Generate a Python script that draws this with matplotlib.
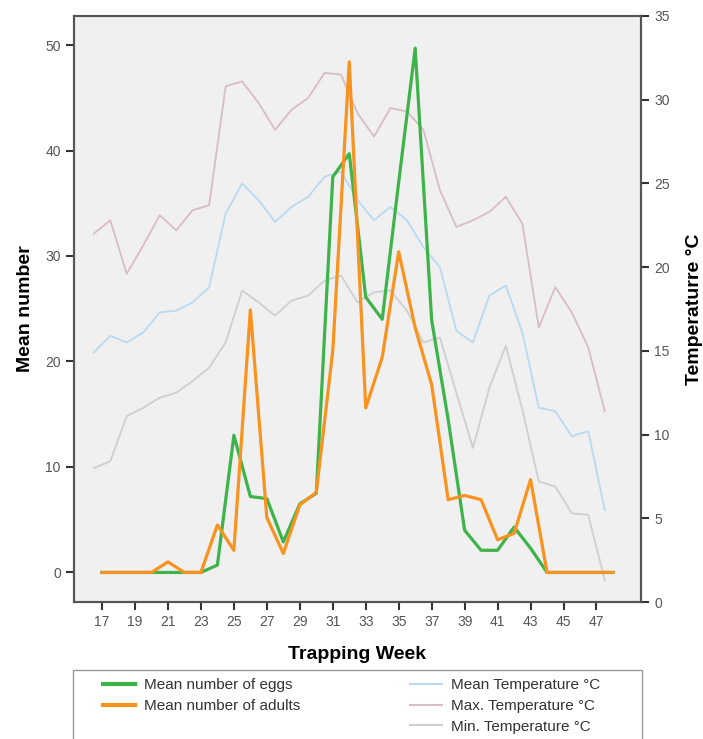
import numpy as np
import matplotlib.pyplot as plt
from matplotlib.lines import Line2D
from matplotlib.patches import Rectangle

plt.rcParams['font.family'] = ['Liberation Sans', 'DejaVu Sans']

# semanas de captura
weeks = list(range(17, 49))

# numero medio (eixo esquerdo)
eggs = [0, 0, 0, 0, 0, 0, 0, 0.7, 13.0, 7.2, 7.0, 2.9, 6.5, 7.5, 37.5, 39.7,
        26.1, 24.0, 37.0, 49.7, 23.9, 14.5, 4.0, 2.1, 2.1, 4.3, 2.3, 0, 0, 0, 0, 0]
adults = [0, 0, 0, 0, 1.0, 0, 0, 4.5, 2.1, 24.9, 5.2, 1.8, 6.4, 7.6, 21.0, 48.4,
          15.6, 20.4, 30.4, 23.2, 17.8, 6.9, 7.3, 6.9, 3.1, 3.7, 8.8, 0, 0, 0, 0, 0]

# temperaturas (eixo direito)
temp_mean = [14.9, 15.9, 15.5, 16.1, 17.3, 17.4, 17.9, 18.8, 23.2, 25.0, 24.0, 22.7,
             23.6, 24.2, 25.4, 25.7, 24.0, 22.8, 23.6, 22.8, 21.2, 20.0, 16.2, 15.5,
             18.3, 18.9, 16.1, 11.6, 11.4, 9.9, 10.2, 5.5]
temp_max = [22.0, 22.8, 19.6, 21.3, 23.1, 22.2, 23.4, 23.7, 30.8, 31.1, 29.8, 28.2,
            29.4, 30.1, 31.6, 31.5, 29.2, 27.8, 29.5, 29.3, 28.2, 24.6, 22.4, 22.8,
            23.3, 24.2, 22.6, 16.4, 18.8, 17.3, 15.2, 11.4]
temp_min = [8.0, 8.4, 11.1, 11.6, 12.2, 12.5, 13.2, 14.0, 15.5, 18.6, 17.9, 17.1,
            18.0, 18.3, 19.2, 19.5, 17.9, 18.5, 18.6, 17.4, 15.5, 15.8, 12.5, 9.2,
            12.8, 15.3, 11.5, 7.2, 6.9, 5.3, 5.2, 1.3]

c_eggs = '#3db349'
c_adults = '#f7931e'
c_mean = '#b8daf0'
c_max = '#d8bcc6'
c_min = '#cfcfcf'

fig = plt.figure(figsize=(7.03, 7.39), dpi=100)
ax = fig.add_axes([74 / 703, 1 - 602 / 739, (641 - 74) / 703, (602 - 16) / 739])
ax2 = ax.twinx()
ax.set_zorder(ax2.get_zorder() + 1)
ax.patch.set_visible(False)
ax2.patch.set_visible(True)
ax2.patch.set_facecolor('#f0f0f0')

# temperaturas deslocadas meia semana
tw = np.array(weeks) - 0.5
ax2.plot(tw, temp_max, color=c_max, lw=1.3)
ax2.plot(tw, temp_mean, color=c_mean, lw=1.3)
ax2.plot(tw, temp_min, color=c_min, lw=1.3)

ax.plot(weeks, eggs, color=c_eggs, lw=2.3)
ax.plot(weeks, adults, color=c_adults, lw=2.3)

ax.set_xlim(15.3, 49.7)
ax.set_ylim(-2.8, 52.75)
ax2.set_ylim(0, 35)
ax.set_xticks(range(17, 48, 2))
ax.set_yticks(range(0, 51, 10))
ax2.set_yticks(range(0, 36, 5))

for a in (ax, ax2):
    for s in a.spines.values():
        s.set_color('#555555')
        s.set_linewidth(1.5)
    a.tick_params(direction='out', length=6, width=1.5, color='#333333',
                  labelcolor='#555555', labelsize=10)

ax.set_ylabel('Mean number', fontsize=14, fontweight='bold', labelpad=8)
ax.set_xlabel('Trapping Week', fontsize=14, fontweight='bold', labelpad=12)
ax2.set_ylabel('Temperaturre °C', fontsize=14, fontweight='bold', labelpad=12)

# caixa da legenda
fig.add_artist(Rectangle((73 / 703, -0.05), (642 - 73) / 703, 1 - 670 / 739 + 0.05,
                         transform=fig.transFigure, facecolor='white',
                         edgecolor='#999999', lw=1))

h1 = [Line2D([], [], color=c_eggs, lw=3), Line2D([], [], color=c_adults, lw=3)]
h2 = [Line2D([], [], color=c_mean, lw=1.5), Line2D([], [], color=c_max, lw=1.5),
      Line2D([], [], color=c_min, lw=1.5)]
opts = dict(loc='upper left', frameon=False, borderpad=0, borderaxespad=0,
            fontsize=11, handlelength=2.1, handletextpad=0.6, labelspacing=0.45,
            labelcolor='#333333')
fig.legend(h1, ['Mean number of eggs', 'Mean number of adults'],
           bbox_to_anchor=(103 / 703, 1 - 678 / 739), **opts)
fig.legend(h2, ['Mean Temperature °C', 'Max. Temperature °C', 'Min. Temperature °C'],
           bbox_to_anchor=(410 / 703, 1 - 678 / 739), **opts)

fig.savefig('out.png', dpi=100)
